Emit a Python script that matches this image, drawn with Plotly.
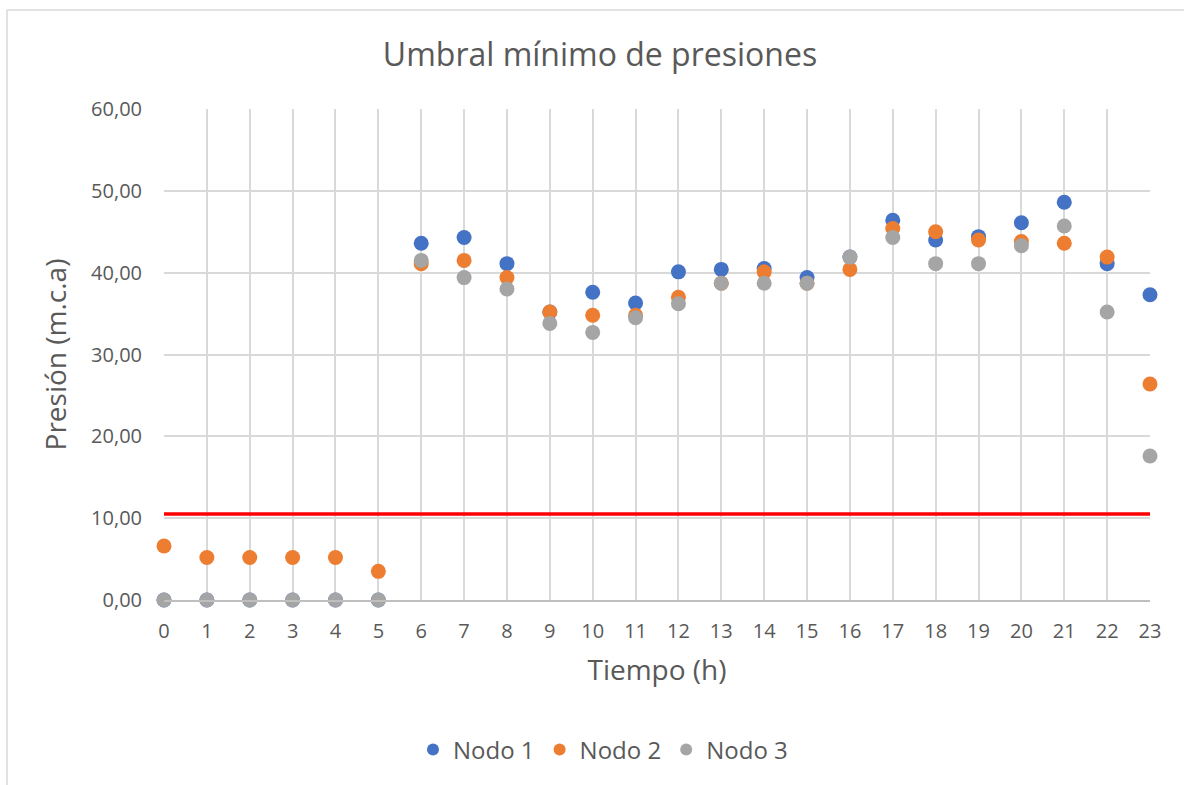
import plotly.graph_objects as go

hours = list(range(24))
nodo1 = [0, 0, 0, 0, 0, 0, 43.6, 44.3, 41.1, 35.2, 37.6, 36.3, 40.1, 40.4, 40.5, 39.4,
         41.9, 46.4, 44.0, 44.4, 46.1, 48.6, 41.1, 37.3]
nodo2 = [6.6, 5.2, 5.2, 5.2, 5.2, 3.5, 41.1, 41.5, 39.4, 35.2, 34.8, 34.8, 37.0, 38.7, 40.1, 38.7,
         40.4, 45.4, 45.0, 44.0, 43.8, 43.6, 41.9, 26.4]
nodo3 = [0, 0, 0, 0, 0, 0, 41.5, 39.4, 38.0, 33.8, 32.7, 34.5, 36.2, 38.7, 38.7, 38.7,
         41.9, 44.3, 41.1, 41.1, 43.3, 45.7, 35.2, 17.6]
umbral = [10.5] * 24

series = [("Nodo 1", nodo1, "#4472C4"), ("Nodo 2", nodo2, "#ED7D31"), ("Nodo 3", nodo3, "#A5A5A5")]

FONT = "Open Sans"
TXT = "#595959"

fig = go.Figure()
fig.add_trace(go.Scatter(x=hours, y=umbral, mode="lines", line=dict(color="#FF0000", width=3.5),
                         showlegend=False, hoverinfo="skip", cliponaxis=False))
for name, vals, col in series:
    fig.add_trace(go.Scatter(x=hours, y=vals, mode="markers", name=name,
                             marker=dict(color=col, size=15, line=dict(width=0)),
                             cliponaxis=False))

L, R, T, B = 164, 1150, 109, 600
W, H = 1184, 785
pw, ph = R - L, B - T

def px_x(p):
    return (p - L) / pw

def px_y(p):
    return (B - p) / ph

fig.update_layout(
    width=W, height=H,
    margin=dict(l=L, r=W - R, t=T, b=H - B, pad=0),
    paper_bgcolor="white", plot_bgcolor="white",
    separators=",.",
    font=dict(family=FONT, color=TXT, size=20),
    title=dict(text="Umbral mínimo de presiones", x=600 / W, xanchor="center",
               y=1 - 55 / H, yanchor="middle", font=dict(size=32, color=TXT, family=FONT)),
    legend=dict(orientation="h", x=px_x(603), xanchor="center", y=px_y(750), yanchor="middle",
                font=dict(size=24, color=TXT), itemsizing="constant", traceorder="normal",
                itemwidth=30),
    xaxis=dict(range=[0, 23], tickmode="array", tickvals=hours, ticktext=[str(h) for h in hours],
               showgrid=True, gridcolor="#D9D9D9", gridwidth=1.5, zeroline=False,
               showline=True, linecolor="#BFBFBF", linewidth=1.5, ticks="",
               ticklabelstandoff=12,
               tickfont=dict(size=20, color=TXT),
               title=dict(text="Tiempo (h)", font=dict(size=28, color=TXT), standoff=18)),
    yaxis=dict(range=[0, 60], tickmode="array", tickvals=[0, 10, 20, 30, 40, 50, 60],
               tickformat=".2f", showgrid=True, gridcolor="#D9D9D9", gridwidth=1.5,
               zeroline=False, showline=False, ticks="", ticklabelstandoff=21,
               tickfont=dict(size=20, color=TXT),
               title=dict(text="Presión (m.c.a)", font=dict(size=28, color=TXT), standoff=16)),
    shapes=[
        dict(type="line", xref="paper", yref="paper", x0=px_x(7), x1=px_x(W + 20),
             y0=px_y(10), y1=px_y(10), line=dict(color="#D9D9D9", width=1.5)),
        dict(type="line", xref="paper", yref="paper", x0=px_x(7), x1=px_x(7),
             y0=px_y(10), y1=px_y(H + 20), line=dict(color="#D9D9D9", width=1.5)),
    ],
)

fig.write_html("out.html", config={"displayModeBar": False},
               post_script="document.body.style.margin='0';")
